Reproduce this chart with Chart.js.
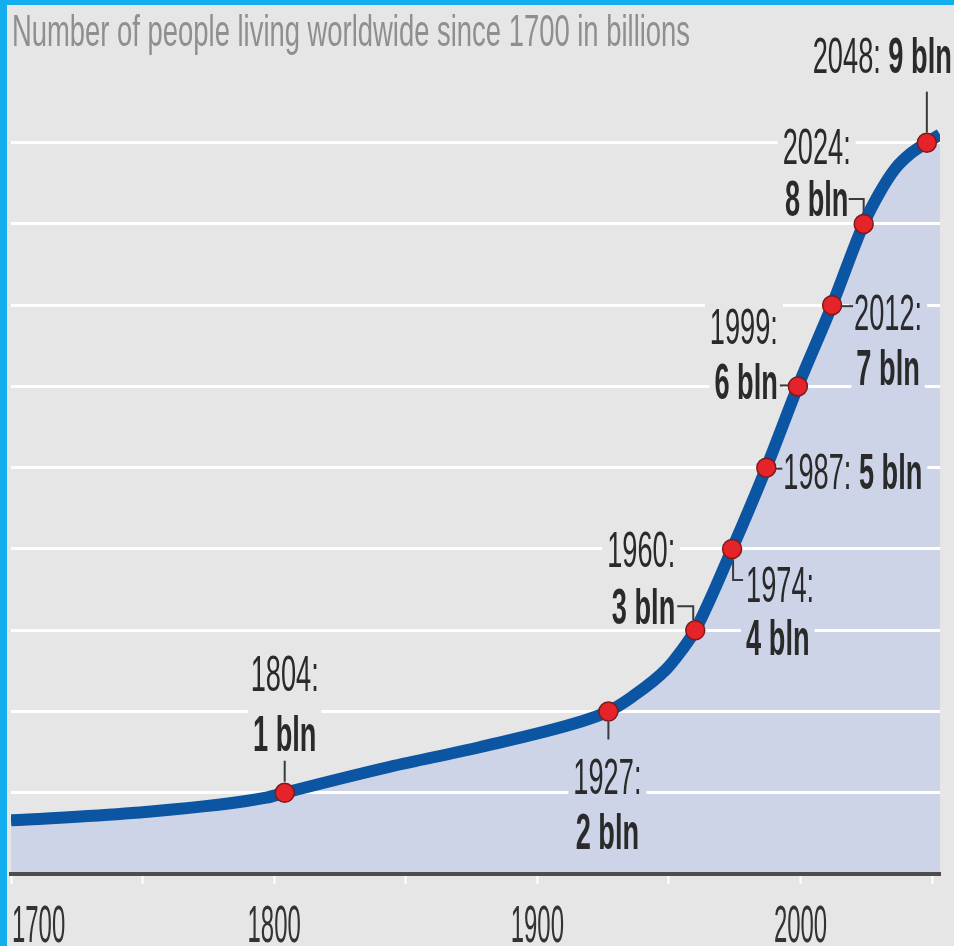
<!DOCTYPE html>
<html><head><meta charset="utf-8">
<script src="https://cdn.jsdelivr.net/npm/chart.js@4.4.1/dist/chart.umd.min.js"></script>
<style>
html,body{margin:0;padding:0;background:#e6e6e6;}
#wrap{position:relative;width:954px;height:946px;overflow:hidden;}
#c{position:absolute;left:0;top:0;}
.bl{position:absolute;left:0;top:0;width:7px;height:946px;background:#12aef0;}
.bt{position:absolute;left:0;top:0;width:954px;height:5px;background:#12aef0;}
</style></head><body>
<div id="wrap"><canvas id="c" width="954" height="946"></canvas><div class="bl"></div><div class="bt"></div></div>
<script>
// ---- data ----
const curveYears  = [1700, 1746, 1797, 1804, 1844, 1878, 1916, 1927, 1936, 1949, 1955, 1960, 1974, 1987, 1999, 2012, 2024, 2030, 2036, 2042, 2048, 2053];
const curveValues = [0.66, 0.75, 0.94, 1.0, 1.32, 1.56, 1.87, 2.0, 2.18, 2.52, 2.76, 3.0, 4.0, 5.0, 6.0, 7.0, 8.0, 8.38, 8.68, 8.87, 9.0, 9.1];
const milestoneYears  = [1804, 1927, 1960, 1974, 1987, 1999, 2012, 2024, 2048];
const milestoneValues = [1, 2, 3, 4, 5, 6, 7, 8, 9];
const tickLabels = ['1700', '1800', '1900', '2000'];
const titleText = 'Number of people living worldwide since 1700 in billions';
const unitText = 'bln';

// ---- styles / layout ----
const BG = '#e6e6e6', FILL = '#ced4e8', LINE = '#0c55a3';
const FAMILY = "'Liberation Sans', Arial, sans-serif";
const LABEL_SIZE = 50, LABEL_SX = 0.544, CAP = 36;
const labelLayout = [
  {mode:'two', align:'center', dx:0,   dy1:-102, dy2:-42, bg:BG,   leader:[[0,-11],[0,-32]]},
  {mode:'two', align:'center', dx:-1,  dy1:83,   dy2:138, bg:FILL, leader:[[0,10],[0,28]]},
  {mode:'two', align:'right',  dx:-20, dy1:-63,  dy2:-6,  bg:BG,   leader:[[-18,-24],[-2,-24],[-2,-10]]},
  {mode:'two', align:'left',   dx:14,  dy1:53,   dy2:106, bg:FILL, leader:[[1,11],[1,31],[11,31]]},
  {mode:'one', align:'left',   dx:17,  dy:21,             bg:FILL, leader:[[9,1],[16,1]]},
  {mode:'two', align:'right',  dx:-20, dy1:-42,  dy2:13,  bg:BG,   leader:[[-18,-1],[-9,-1]]},
  {mode:'two', align:'center', dx:56,  dy1:25,   dy2:80,  bg:FILL, leader:[[9,1],[21,1]]},
  {mode:'two', align:'center', dx:-47, dy1:-60,  dy2:-8,  bg:BG,   leader:[[-15,-25],[0,-25],[0,-10]]},
  {mode:'one', align:'right',  dx:25,  dy:-70,            bg:BG,   leader:[[0,-10],[0,-51]]}
];

function segWidth(ctx, segs, sx){
  let w = 0;
  for (const s of segs){ ctx.font = (s.bold?'bold ':'') + s.size + 'px ' + FAMILY; w += ctx.measureText(s.text).width * sx; }
  return w;
}
function drawSegs(ctx, segs, x, y, align, sx, color, bg){
  const w = segWidth(ctx, segs, sx);
  let left = align === 'center' ? x - w/2 : (align === 'right' ? x - w : x);
  if (bg){ ctx.fillStyle = bg; ctx.fillRect(left - 5, y - CAP - 5, w + 10, CAP + 10); }
  ctx.fillStyle = color; ctx.textBaseline = 'alphabetic'; ctx.textAlign = 'left';
  let cx = left;
  for (const s of segs){
    ctx.font = (s.bold?'bold ':'') + s.size + 'px ' + FAMILY;
    const sw = ctx.measureText(s.text).width * sx;
    ctx.save(); ctx.translate(cx, y); ctx.scale(sx, 1); ctx.fillText(s.text, 0, 0); ctx.restore();
    cx += sw;
  }
}

const labelPlugin = {
  id: 'labels',
  beforeDatasetsDraw(chart){
    const ctx = chart.ctx, xs = chart.scales.x, ys = chart.scales.y;
    ctx.save();
    milestoneYears.forEach((yr, i) => {
      const L = labelLayout[i];
      const mx = xs.getPixelForValue(yr), my = ys.getPixelForValue(milestoneValues[i]);
      const yText = yr + ':', vText = milestoneValues[i] + ' ' + unitText;
      if (L.mode === 'two'){
        drawSegs(ctx, [{text:yText, size:LABEL_SIZE}], mx + L.dx, my + L.dy1, L.align, LABEL_SX, '#2a2a2a', L.bg);
        drawSegs(ctx, [{text:vText, size:LABEL_SIZE, bold:true}], mx + L.dx, my + L.dy2, L.align, LABEL_SX, '#2a2a2a', L.bg);
      } else {
        drawSegs(ctx, [{text:yText + ' ', size:LABEL_SIZE}, {text:vText, size:LABEL_SIZE, bold:true}], mx + L.dx, my + L.dy, L.align, LABEL_SX, '#2a2a2a', L.bg);
      }
      ctx.strokeStyle = '#3a3a3a'; ctx.lineWidth = 2;
      ctx.beginPath();
      L.leader.forEach((p, k) => { const px = mx + p[0], py = my + p[1]; k ? ctx.lineTo(px, py) : ctx.moveTo(px, py); });
      ctx.stroke();
    });
    ctx.restore();
  },
  afterDraw(chart){
    const ctx = chart.ctx, xs = chart.scales.x;
    ctx.save();
    ctx.font = '44px ' + FAMILY;
    const tsx = 678 / ctx.measureText(titleText).width;
    drawSegs(ctx, [{text:titleText, size:44}], 12, 46, 'left', tsx, '#8f8f8f', null);
    tickLabels.forEach((t, i) => {
      const px = xs.getPixelForValue(Number(t));
      drawSegs(ctx, [{text:t, size:52}], i === 0 ? px + 1 : px, 942, i === 0 ? 'left' : 'center', 0.46, '#333333', null);
    });
    ctx.restore();
  }
};

new Chart(document.getElementById('c'), {
  type: 'line',
  data: {
    datasets: [
      {
        label: 'milestones', order: 0,
        data: milestoneYears.map((x, i) => ({x, y: milestoneValues[i]})),
        showLine: false, fill: false,
        pointRadius: 9.5, pointBackgroundColor: '#e5232b', pointBorderColor: '#7d1b1b', pointBorderWidth: 1.5
      },
      {
        label: 'population', order: 1,
        data: curveYears.map((x, i) => ({x, y: curveValues[i]})),
        borderColor: LINE, borderWidth: 12, pointRadius: 0,
        fill: 'origin', backgroundColor: FILL,
        cubicInterpolationMode: 'monotone', borderCapStyle: 'butt'
      }
    ]
  },
  options: {
    responsive: false, animation: false, devicePixelRatio: 1,
    layout: {padding: {top: 102, left: 11, right: 14, bottom: 0}},
    plugins: {legend: {display: false}, tooltip: {enabled: false}, filler: {drawTime: 'beforeDraw'}},
    scales: {
      x: {
        type: 'linear', min: 1700, max: 2053,
        ticks: {display: false, stepSize: 50, includeBounds: false},
        grid: {drawOnChartArea: false, drawTicks: true, tickLength: 10, tickColor: '#ffffff', tickWidth: 2},
        border: {display: true, color: '#4d4d4d', width: 4},
        afterFit: s => { s.height = 72; }
      },
      y: {
        type: 'linear', min: 0, max: 9.5,
        ticks: {display: false, stepSize: 1, includeBounds: false},
        grid: {color: c => (c.tick && c.tick.value === 0) ? 'rgba(0,0,0,0)' : '#ffffff', lineWidth: 3, drawTicks: false},
        border: {display: false},
        afterFit: s => { s.width = 0; }
      }
    }
  },
  plugins: [labelPlugin]
});
</script>
</body></html>
